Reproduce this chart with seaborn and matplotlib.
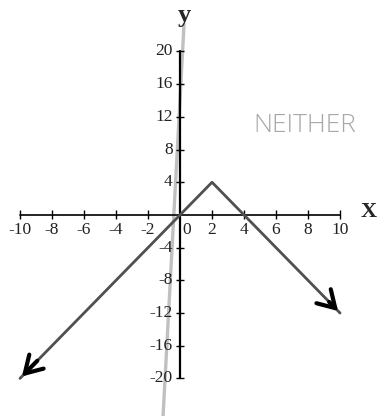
import matplotlib
matplotlib.use("Agg")
import matplotlib.pyplot as plt
import seaborn as sns
import pandas as pd

sns.set_theme(style="white")
plt.rcParams['font.family'] = ['Liberation Serif', 'DejaVu Serif']

# data
x_ticks = [-10, -8, -6, -4, -2, 2, 4, 6, 8, 10]
x_labels = ["-10", "-8", "-6", "-4", "-2", "2", "4", "6", "8", "10"]
y_ticks = [-20, -16, -12, -8, -4, 4, 8, 12, 16, 20]
y_labels = ["-20", "-16", "-12", "-8", "-4", "4", "8", "12", "16", "20"]
func_x = [-10, 2, 10]
func_y = [-20, 4, -12]
pencil_x = [0.25, -1.06]
pencil_y = [23.3, -24.6]
note_text = "NEITHER"

fig = plt.figure(figsize=(3.81, 4.16), dpi=100)
ax = fig.add_axes([0, 0, 1, 1])
ax.set_xlim(-11.25, 12.56)
ax.set_ylim(-24.6, 26.3)
ax.axis("off")

# axes lines
ax.plot([-10, 10], [0, 0], color="black", lw=1.2, zorder=2)
ax.plot([0, 0], [-20, 20], color="black", lw=1.6, zorder=2)
ax.vlines(x_ticks, -0.55, 0.55, color="black", lw=1.0, zorder=2)
ax.hlines(y_ticks, -0.25, 0.25, color="black", lw=1.0, zorder=2)
for xt, lab in zip(x_ticks, x_labels):
    ax.text(xt, -0.9, lab, ha="center", va="top", fontsize=12.5, color="#222222")
ax.text(0.4, -0.9, "0", ha="center", va="top", fontsize=12.5, color="#222222")
for yt, lab in zip(y_ticks, y_labels):
    ax.text(-0.45, yt, lab, ha="right", va="center", fontsize=12.5, color="#222222")
ax.text(11.8, 0.3, "X", ha="center", va="center", fontsize=16, fontweight="bold")
ax.text(0.25, 24.4, "y", ha="center", va="center", fontsize=19, fontweight="bold")

# pencil line
sns.lineplot(x=pencil_x, y=pencil_y, ax=ax, color="#c0c0c0", lw=2.4, sort=False, zorder=1)

# function
df = pd.DataFrame({"x": func_x, "y": func_y})
sns.lineplot(data=df, x="x", y="y", ax=ax, color="#505050", lw=2.0, sort=False, zorder=3)
for (xa, ya), (xb, yb) in [((func_x[0], func_y[0]), (func_x[1], func_y[1])),
                           ((func_x[2], func_y[2]), (func_x[1], func_y[1]))]:
    ax.annotate("", xy=(xa, ya), xytext=(xa + (xb - xa) * 0.1, ya + (yb - ya) * 0.1),
                arrowprops=dict(arrowstyle="->,head_length=1.0,head_width=0.6", color="black", lw=3.0),
                zorder=4)

ax.text(7.8, 11.0, note_text, ha="center", va="center", fontsize=19, color="#a8a8a8",
        family=["Open Sans"], fontweight="light")

ax.set_xlabel("")
ax.set_ylabel("")
fig.savefig("out.png", dpi=100)
